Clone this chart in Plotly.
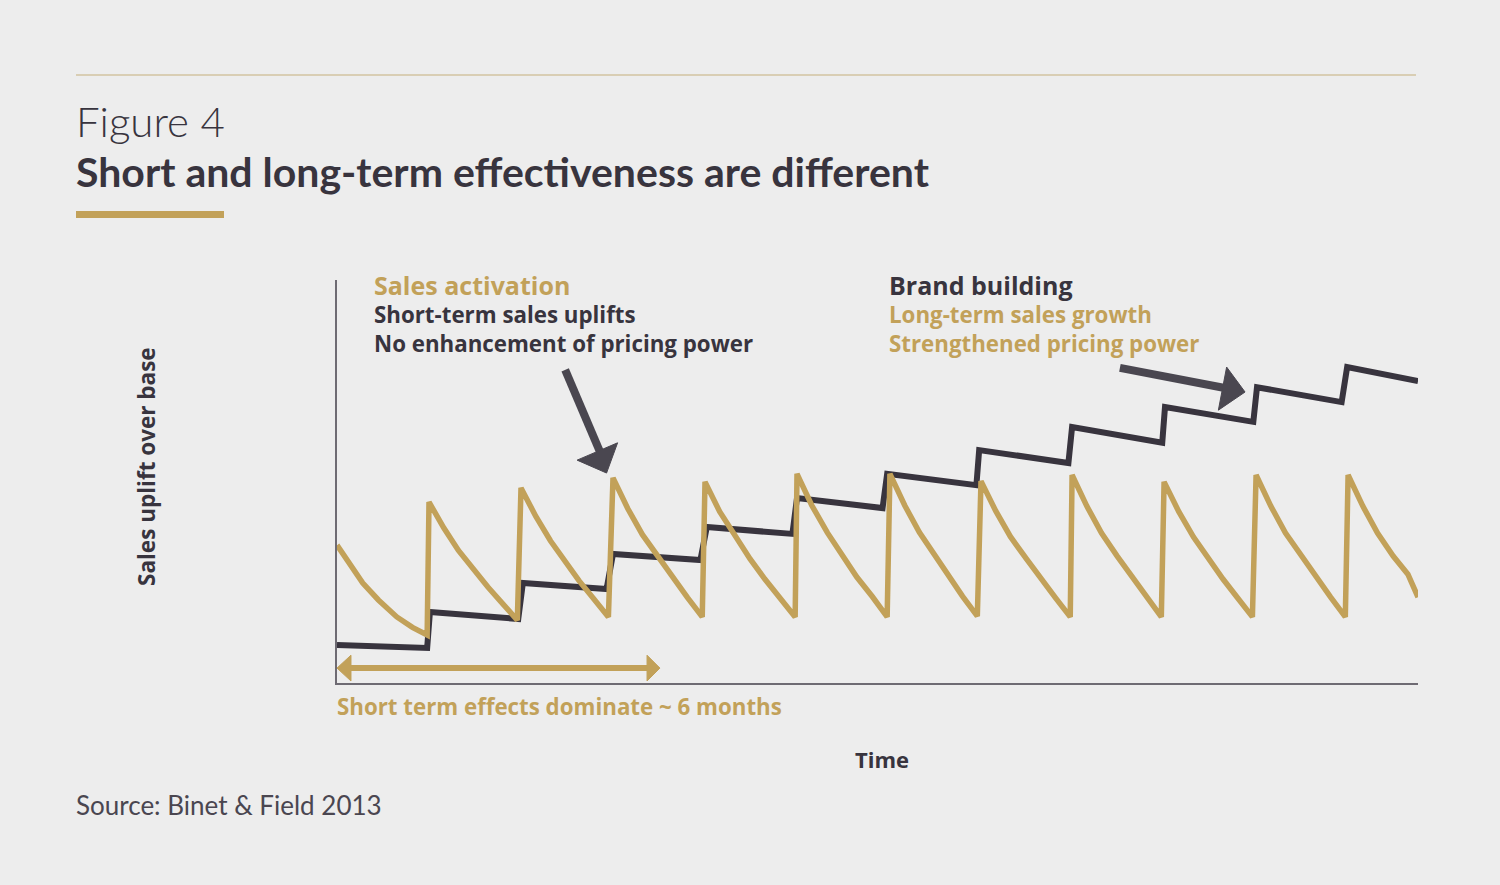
import plotly.graph_objects as go

# ---------------- data (time in "burst" units, uplift in % of axis) ----------------
gold_t = [0, 0.14, 0.28, 0.45, 0.65, 0.82, 0.98,
          1.0, 1.16, 1.32, 1.48, 1.64, 1.80, 1.96,
          2.0, 2.16, 2.32, 2.48, 2.63, 2.79, 2.95,
          3.0, 3.16, 3.32, 3.49, 3.65, 3.81, 3.97,
          4.0, 4.16, 4.33, 4.49, 4.65, 4.82, 4.98,
          5.0, 5.16, 5.33, 5.49, 5.65, 5.82, 5.98,
          6.01, 6.17, 6.33, 6.49, 6.64, 6.80, 6.96,
          7.0, 7.16, 7.32, 7.49, 7.65, 7.81, 7.97,
          7.99, 8.15, 8.31, 8.48, 8.64, 8.80, 8.96,
          8.99, 9.15, 9.31, 9.47, 9.63, 9.79, 9.95,
          9.99, 10.15, 10.31, 10.48, 10.64, 10.80, 10.96,
          10.99, 11.15, 11.31, 11.48, 11.64, 11.75]
gold_v = [34.2, 29.2, 24.8, 20.6, 16.4, 13.8, 11.9,
          44.9, 38.5, 32.9, 28.2, 23.8, 19.7, 15.6,
          48.4, 41.4, 35.3, 30.2, 25.4, 20.9, 16.4,
          50.9, 43.3, 36.8, 31.2, 26.1, 21.2, 16.4,
          49.9, 42.5, 36.2, 30.8, 25.8, 21.1, 16.4,
          51.9, 44.1, 37.3, 31.7, 26.3, 21.4, 16.4,
          51.9, 44.1, 37.4, 31.8, 26.5, 21.5, 16.6,
          50.1, 42.7, 36.3, 30.9, 25.8, 21.1, 16.4,
          51.6, 43.9, 37.2, 31.5, 26.3, 21.3, 16.4,
          49.9, 42.5, 36.2, 30.8, 25.8, 21.1, 16.4,
          51.6, 43.9, 37.2, 31.5, 26.3, 21.3, 16.4,
          51.6, 43.9, 37.2, 31.5, 27.0, 21.3]

brand_t = [0, 0.98, 1.01, 1.97, 2.02, 2.93, 3.0, 3.95, 4.02, 4.95, 5.0, 5.93,
           5.98, 6.95, 6.98, 7.95, 7.99, 8.97, 9.0, 9.96, 10.0, 10.92, 10.98, 11.75]
brand_v = [9.4, 8.7, 17.6, 15.9, 24.8, 23.3, 32.0, 30.5, 38.7, 37.0, 45.9, 43.4,
           51.9, 49.1, 57.8, 54.6, 63.5, 59.6, 68.5, 64.8, 73.4, 69.7, 78.4, 74.9]

GOLD = "#c2a159"
DARK = "#38343e"
ARROW = "#4a4750"
BG = "#ededed"
FONT = "Lato"
BOLD_FONT = "Open Sans"

# ---------------- figure geometry ----------------
W, H = 1500, 885
L, R, T, B = 337, 1418, 280, 683  # plot area in pixels


def px(x):
    return (x - L) / (R - L)


def py(y):
    return (B - y) / (B - T)


fig = go.Figure()
fig.add_trace(go.Scatter(x=brand_t, y=brand_v, mode="lines",
                         line=dict(color=DARK, width=6), hoverinfo="skip",
                         name="Brand building"))
fig.add_trace(go.Scatter(x=gold_t, y=gold_v, mode="lines",
                         line=dict(color=GOLD, width=5.5), hoverinfo="skip",
                         name="Sales activation"))

shapes = []
# top rule and gold bar
shapes.append(dict(type="line", xref="paper", yref="paper", x0=px(76), x1=px(1416),
                   y0=py(75), y1=py(75), line=dict(color="#d2c3a0", width=1.5)))
shapes.append(dict(type="rect", xref="paper", yref="paper", x0=px(76), x1=px(224),
                   y0=py(211), y1=py(218), fillcolor=GOLD, line=dict(width=0)))

# arrow 1 (sales activation)
shapes.append(dict(type="line", xref="x", yref="y", x0=2.48, y0=77.7, x1=2.86, y1=57.3,
                   line=dict(color=ARROW, width=8)))
shapes.append(dict(type="path", xref="x", yref="y",
                   path="M 2.93 52.1 L 2.61 55.3 L 3.05 59.6 Z",
                   fillcolor=ARROW, line=dict(color=ARROW, width=1)))
# arrow 2 (brand building)
shapes.append(dict(type="line", xref="x", yref="y", x0=8.51, y0=78.2, x1=9.65, y1=73.2,
                   line=dict(color=ARROW, width=8)))
shapes.append(dict(type="path", xref="x", yref="y",
                   path="M 9.87 72.2 L 9.67 78.4 L 9.58 67.7 Z",
                   fillcolor=ARROW, line=dict(color=ARROW, width=1)))
# double-headed gold arrow (~6 months)
shapes.append(dict(type="line", xref="x", yref="y", x0=0.12, y0=3.7, x1=3.40, y1=3.7,
                   line=dict(color=GOLD, width=6)))
shapes.append(dict(type="path", xref="x", yref="y",
                   path="M 0.0 3.7 L 0.152 6.9 L 0.152 0.5 Z",
                   fillcolor=GOLD, line=dict(color=GOLD, width=1)))
shapes.append(dict(type="path", xref="x", yref="y",
                   path="M 3.51 3.7 L 3.37 6.9 L 3.37 0.5 Z",
                   fillcolor=GOLD, line=dict(color=GOLD, width=1)))

ann = []


def text(s, x, y, size, color, weight=700, xanchor="left", angle=0, family=BOLD_FONT):
    ann.append(dict(text=s, x=px(x), y=py(y), xref="paper", yref="paper",
                    xanchor=xanchor, yanchor="middle", showarrow=False,
                    textangle=angle,
                    font=dict(family=family, size=size, color=color, weight=weight)))


text("Figure 4", 74, 121, 42, DARK, weight=300, family=FONT)
text("Short and long-term effectiveness are different", 74, 172, 41, DARK, weight=700,
     family=FONT)
text("Sales activation", 372, 285, 25, GOLD)
text("Short-term sales uplifts", 372, 314, 22.3, DARK)
text("No enhancement of pricing power", 372, 343, 22.3, DARK)
text("Brand building", 887, 285, 25, DARK)
text("Long-term sales growth", 887, 314, 22.3, GOLD)
text("Strengthened pricing power", 887, 343, 22.3, GOLD)
text("Short term effects dominate ~ 6 months", 335, 706, 22.3, GOLD)
text("Time", 882, 759, 22, DARK, xanchor="center")
text("Sales uplift over base", 146, 467, 22.5, DARK, xanchor="center", angle=-90)
text("Source: Binet & Field 2013", 74, 805, 26, "#4a4650", weight=400, family=FONT)

fig.update_layout(
    width=W, height=H,
    margin=dict(l=L, r=W - R, t=T, b=H - B, pad=0),
    paper_bgcolor=BG, plot_bgcolor=BG,
    showlegend=False,
    shapes=shapes,
    annotations=ann,
    xaxis=dict(range=[0, 11.75], showgrid=False, zeroline=False, showticklabels=False,
               ticks="", showline=True, linecolor="#6e6b73", linewidth=2, fixedrange=True),
    yaxis=dict(range=[0, 100], showgrid=False, zeroline=False, showticklabels=False,
               ticks="", showline=True, linecolor="#6e6b73", linewidth=2, fixedrange=True),
)

fig.write_html("out.html")
